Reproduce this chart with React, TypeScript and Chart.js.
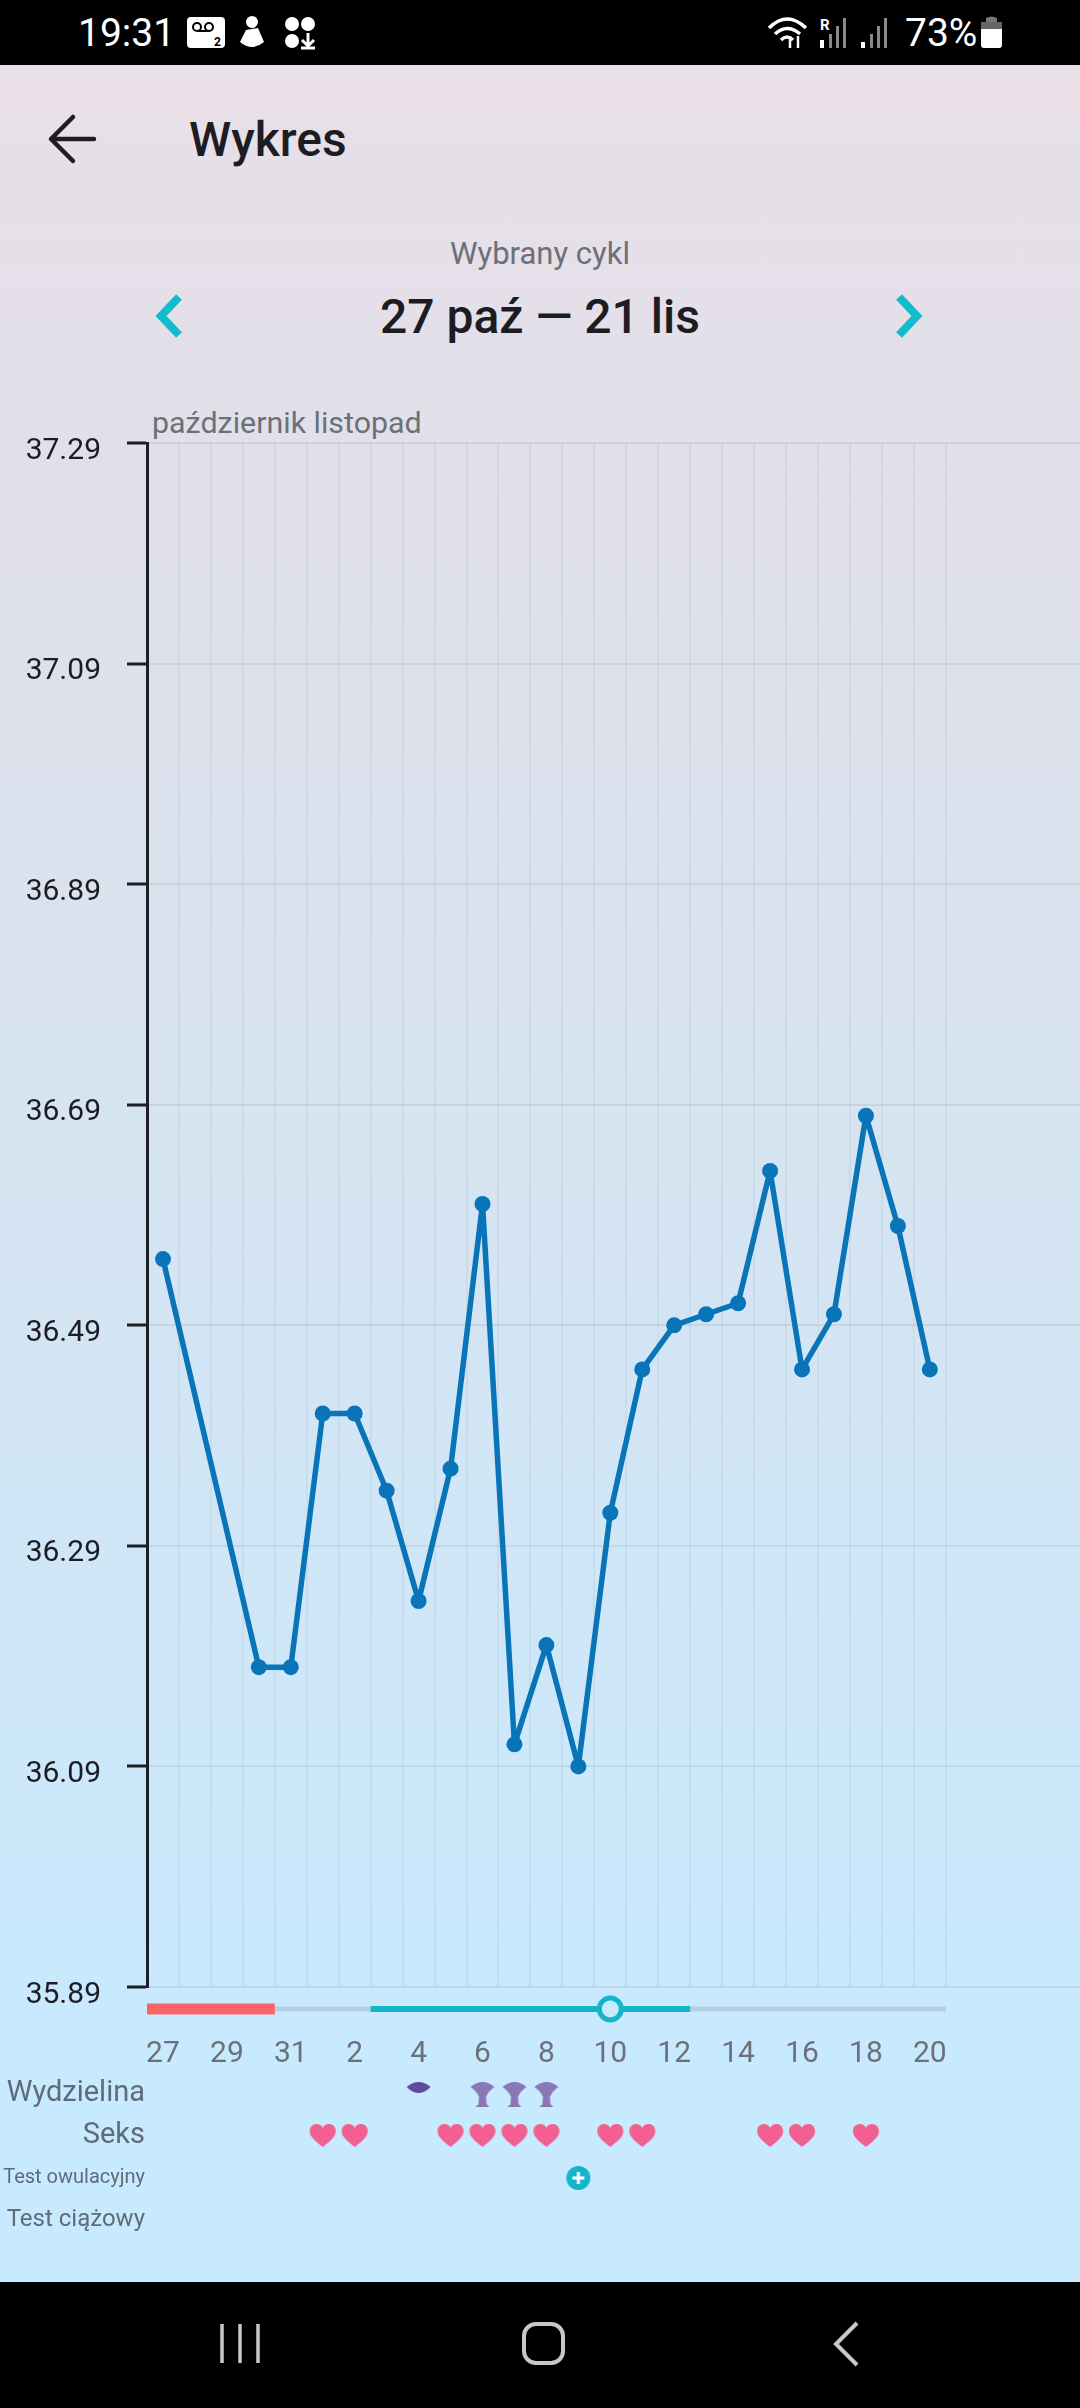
import React, { useEffect, useRef } from "react";
import { Chart, registerables } from "chart.js";

Chart.register(...registerables);

// ---- data ----
const dayLabels = ["27","28","29","30","31","1","2","3","4","5","6","7","8","9","10","11","12","13","14","15","16","17","18","19","20"];
const temperatures: (number | null)[] = [36.55,null,null,36.18,36.18,36.41,36.41,36.34,36.24,36.36,36.60,36.11,36.20,36.09,36.32,36.45,36.49,36.50,36.51,36.63,36.45,36.50,36.68,36.58,36.45];
const tempTicks = [35.89,36.09,36.29,36.49,36.69,36.89,37.09,37.29];
const labelledDays = [0,2,4,6,8,10,12,14,16,18,20,22,24];
const dayEdges = [-0.5,0.5,1.5,2.5,3.5,4.5,5.5,6.5,7.5,8.5,9.5,10.5,11.5,12.5,13.5,14.5,15.5,16.5,17.5,18.5,19.5,20.5,21.5,22.5,23.5,24.5];
const lanes = ["Wydzielina","Seks","Test owulacyjny","Test ciążowy"];
const periodRange = [-0.5,3.5];
const cycleRange = [-0.5,24.5];
const fertileRange = [6.5,16.5];
const ovulationDay = [14];
const eyeDays = [8];
const fanDays = [10,11,12];
const sexDays = [5,6,9,10,11,12,14,15,19,20,22];
const lhPositiveDays = [13];

const X_MIN = -0.5;
const X_MAX = 28.7;
const FONT = "Roboto";
const ink = "#1c1c22";
const gray = "#6d7078";

function sprite(w: number, h: number, draw: (c: CanvasRenderingContext2D) => void) {
  const cv = document.createElement("canvas");
  cv.width = w; cv.height = h;
  draw(cv.getContext("2d")!);
  return cv;
}
const makeHeart = () => sprite(28, 26, (c) => {
  c.fillStyle = "#f2608f";
  c.beginPath();
  c.moveTo(14, 24);
  c.bezierCurveTo(5, 17, 1, 13, 1, 8);
  c.bezierCurveTo(1, 3.5, 4.5, 1, 8, 1);
  c.bezierCurveTo(10.5, 1, 13, 2.5, 14, 5);
  c.bezierCurveTo(15, 2.5, 17.5, 1, 20, 1);
  c.bezierCurveTo(23.5, 1, 27, 3.5, 27, 8);
  c.bezierCurveTo(27, 13, 23, 17, 14, 24);
  c.fill();
});
const makeFan = () => sprite(26, 28, (c) => {
  c.fillStyle = "#8a78b6";
  c.beginPath();
  c.moveTo(1, 7);
  c.quadraticCurveTo(13, -3, 25, 7);
  c.quadraticCurveTo(19, 11, 16.5, 17);
  c.lineTo(17, 24); c.lineTo(20, 27); c.lineTo(6, 27); c.lineTo(9, 24); c.lineTo(9.5, 17);
  c.quadraticCurveTo(7, 11, 1, 7);
  c.fill();
});
const makeEye = () => sprite(26, 28, (c) => {
  c.fillStyle = "#634a99";
  c.beginPath();
  c.moveTo(1, 7);
  c.quadraticCurveTo(13, -3, 25, 7);
  c.quadraticCurveTo(13, 19, 1, 7);
  c.fill();
});
const makePlus = () => sprite(26, 26, (c) => {
  c.fillStyle = "#13b5c8";
  c.beginPath(); c.arc(13, 13, 12, 0, Math.PI * 2); c.fill();
  c.strokeStyle = "#ffffff"; c.lineWidth = 3;
  c.beginPath(); c.moveTo(7, 13); c.lineTo(19, 13); c.moveTo(13, 7); c.lineTo(13, 19); c.stroke();
});

const Txt = ({ x, y, size, color, weight, center, children }: any) => (
  <div style={{
    position: "absolute", left: center ? x - 400 : x, width: center ? 800 : undefined,
    top: y - size, height: size * 2, lineHeight: `${size * 2}px`,
    fontFamily: FONT, fontSize: size, fontWeight: weight || 400, color,
    textAlign: center ? "center" : "left", whiteSpace: "nowrap",
  }}>{children}</div>
);

export default function App() {
  const topRef = useRef<HTMLCanvasElement>(null);
  const ribbonRef = useRef<HTMLCanvasElement>(null);
  const lowRef = useRef<HTMLCanvasElement>(null);

  useEffect(() => {
    const noPad = (s: any) => { s.paddingLeft = 0; s.paddingRight = 0; s.paddingTop = 0; s.paddingBottom = 0; };
    const top = new Chart(topRef.current!, {
      type: "line",
      data: {
        datasets: [
          {
            data: temperatures.map((y, x) => ({ x, y })) as any,
            borderColor: "#0a74b9", backgroundColor: "#0a74b9", borderWidth: 5.5,
            pointRadius: 8, pointBackgroundColor: "#0a74b9", pointBorderWidth: 0,
            tension: 0, spanGaps: true, borderJoinStyle: "round",
          },
        ],
      },
      options: {
        responsive: false, animation: false, devicePixelRatio: 1,
        layout: { autoPadding: false, padding: { top: 43, left: 0, right: 0, bottom: 0 } },
        plugins: { legend: { display: false }, tooltip: { enabled: false } },
        scales: {
          x: {
            type: "linear", min: X_MIN, max: X_MAX, position: "bottom",
            afterBuildTicks: (s: any) => { s.ticks = labelledDays.map((value) => ({ value })); },
            afterFit: (s: any) => { s.height = 93; noPad(s); },
            grid: { display: false }, border: { display: false },
            ticks: {
              autoSkip: false, maxRotation: 0, padding: 41,
              callback: (v: any) => dayLabels[v],
              font: { family: FONT, size: 30 }, color: gray,
            },
          },
          xGrid: {
            type: "linear", axis: "x", min: X_MIN, max: X_MAX, position: "bottom",
            afterBuildTicks: (s: any) => { s.ticks = dayEdges.map((value) => ({ value })); },
            afterFit: (s: any) => { s.height = 0; noPad(s); },
            border: { display: false },
            grid: { color: "rgba(110,125,150,0.09)", lineWidth: 2, drawTicks: false },
            ticks: { display: false, autoSkip: false },
          } as any,
          y: {
            type: "linear", min: 35.89, max: 37.29,
            afterBuildTicks: (s: any) => { s.ticks = tempTicks.map((value) => ({ value })); },
            afterFit: (s: any) => { s.width = 147; noPad(s); },
            border: { display: true, color: "#1c1f26", width: 3 },
            grid: { color: "rgba(110,120,145,0.14)", lineWidth: 2, tickColor: "#1c1f26", tickWidth: 3, tickLength: 20 },
            ticks: {
              padding: 26, labelOffset: 8, autoSkip: false,
              callback: (v: any) => Number(v).toFixed(2),
              font: { family: FONT, size: 30 }, color: ink,
            },
          },
        },
      },
    } as any);

    const ribbonSegment = (r: number[], color: string, width: number, order: number) => ({
      data: r.map((x) => ({ x, y: 0.5 })),
      borderColor: color, borderWidth: width, pointRadius: 0, order,
      borderCapStyle: "butt" as const,
    });
    const ribbon = new Chart(ribbonRef.current!, {
      type: "line",
      data: {
        datasets: [
          {
            data: ovulationDay.map((x) => ({ x, y: 0.5 })),
            showLine: false, pointRadius: 11, pointBorderWidth: 5,
            pointBorderColor: "#13b5c8", pointBackgroundColor: "#c9e9fd", order: 0,
          },
          ribbonSegment(fertileRange, "#13b5c8", 6, 1),
          ribbonSegment(periodRange, "#fa6468", 11, 2),
          ribbonSegment(cycleRange, "#b5cfe2", 5, 3),
        ],
      },
      options: {
        responsive: false, animation: false, devicePixelRatio: 1,
        layout: { autoPadding: false, padding: { left: 147 } },
        plugins: { legend: { display: false }, tooltip: { enabled: false } },
        scales: {
          x: { type: "linear", min: X_MIN, max: X_MAX, display: false },
          y: { type: "linear", min: 0, max: 1, display: false },
        },
      },
    } as any);

    const lane = (name: string, days: number[], style: HTMLCanvasElement) => ({
      data: days.map((x) => ({ x, y: name })),
      showLine: false, pointStyle: style, pointRadius: 14,
    });
    const low = new Chart(lowRef.current!, {
      type: "line",
      data: {
        datasets: [
          lane(lanes[0], eyeDays, makeEye()),
          lane(lanes[0], fanDays, makeFan()),
          lane(lanes[1], sexDays, makeHeart()),
          lane(lanes[2], lhPositiveDays, makePlus()),
        ],
      },
      options: {
        responsive: false, animation: false, devicePixelRatio: 1,
        layout: { autoPadding: false, padding: 0 },
        plugins: { legend: { display: false }, tooltip: { enabled: false } },
        scales: {
          x: { type: "linear", min: X_MIN, max: X_MAX, display: false },
          y: {
            type: "category", labels: lanes, offset: true,
            afterFit: (s: any) => { s.width = 147; noPad(s); },
            border: { display: false }, grid: { display: false, drawTicks: false, tickLength: 0 },
            ticks: {
              padding: 2, autoSkip: false, color: "#5f6c78",
              font: (ctx: any) => ({ family: FONT, size: ctx.index === 2 ? 20 : ctx.index === 3 ? 24 : 29 }),
            },
          },
        },
      },
    } as any);
    return () => { top.destroy(); ribbon.destroy(); low.destroy(); };
  }, []);

  return (
    <div style={{
      position: "absolute", left: 0, top: 0, width: 1080, height: 2408, overflow: "hidden",
      background: "linear-gradient(180deg, #e9dfe7 0px, #e9dfe7 64px, #e0e0ea 500px, #d6e4f1 1150px, #c7eaff 2100px, #c7eaff 2282px)",
    }}>
      <div style={{ position: "absolute", left: 0, top: 0, width: 1080, height: 65, background: "#000" }} />
      <div style={{ position: "absolute", left: 0, top: 2282, width: 1080, height: 126, background: "#000" }} />

      <Txt x={78} y={33} size={39} color="#fff">19:31</Txt>
      <Txt x={905} y={33} size={39} color="#fff">73%</Txt>

      <svg width={1080} height={65} style={{ position: "absolute", left: 0, top: 0 }}>
        <rect x={187} y={17} width={38} height={31} rx={4} fill="#fff" />
        <circle cx={197} cy={27} r={4} fill="none" stroke="#000" strokeWidth={2} />
        <circle cx={209} cy={27} r={4} fill="none" stroke="#000" strokeWidth={2} />
        <path d="M197 31H209" stroke="#000" strokeWidth={2} />
        <text x={214} y={46} fill="#000" fontFamily={FONT} fontSize={12} fontWeight={700}>2</text>
        <circle cx={252} cy={22} r={6} fill="#fff" />
        <path d="M246 30 L258 28 L264 42 Q252 52 240 42 Z" fill="#fff" />
        <circle cx={292} cy={24} r={7} fill="#fff" />
        <circle cx={308} cy={24} r={7} fill="#fff" />
        <circle cx={292} cy={41} r={7} fill="#fff" />
        <path d="M308 33V45M302 40L308 46L314 40M301 48H315" stroke="#fff" strokeWidth={3} fill="none" />
        <path d="M769 28Q787 10 806 28M775 34Q787 23 800 34M781 40Q787 34 793 40" stroke="#fff" strokeWidth={3.5} fill="none" />
        <path d="M790 36V48M798 36V48" stroke="#fff" strokeWidth={2.5} />
        <text x={820} y={30} fill="#fff" fontFamily={FONT} fontSize={15} fontWeight={700}>R</text>
        <rect x={820} y={40} width={4} height={8} fill="#fff" />
        <rect x={829} y={34} width={3} height={14} fill="#888" />
        <rect x={836} y={26} width={3} height={22} fill="#888" />
        <rect x={843} y={18} width={3} height={30} fill="#888" />
        <rect x={861} y={42} width={4} height={6} fill="#fff" />
        <rect x={870} y={34} width={3} height={14} fill="#888" />
        <rect x={877} y={26} width={3} height={22} fill="#888" />
        <rect x={884} y={18} width={3} height={30} fill="#888" />
        <rect x={981} y={22} width={21} height={26} rx={3} fill="#fff" />
        <path d="M986 22V18Q991 15 997 18V22Z" fill="#777" />
        <rect x={981} y={22} width={21} height={7} fill="#666" />
      </svg>

      <svg width={1080} height={360} style={{ position: "absolute", left: 0, top: 65 }}>
        <path d="M94 74H52M73 52L51 74L73 96" stroke={ink} strokeWidth={4.5} fill="none" strokeLinecap="round" strokeLinejoin="round" />
        <path d="M179 232L161 251L179 270" stroke="#13bccd" strokeWidth={8} fill="none" />
        <path d="M899 232L917 251L899 270" stroke="#13bccd" strokeWidth={8} fill="none" />
      </svg>

      <Txt x={189} y={140} size={48} weight={500} color={ink}>Wykres</Txt>
      <Txt x={540} y={254} size={31} color={gray} center>Wybrany cykl</Txt>
      <Txt x={540} y={317} size={48} weight={500} color={ink} center>27 paź — 21 lis</Txt>
      <Txt x={152} y={423} size={30.4} color={gray}>październik listopad</Txt>

      <canvas ref={topRef} width={1080} height={1680} style={{ position: "absolute", left: 0, top: 400, width: 1080, height: 1680 }} />
      <canvas ref={ribbonRef} width={1080} height={34} style={{ position: "absolute", left: 0, top: 1992, width: 1080, height: 34 }} />
      <canvas ref={lowRef} width={1080} height={168} style={{ position: "absolute", left: 0, top: 2073, width: 1080, height: 168 }} />

      <svg width={1080} height={126} style={{ position: "absolute", left: 0, top: 2282 }}>
        <path d="M222 42V81M240 42V81M258 42V81" stroke="#c8c8c8" strokeWidth={3.5} />
        <rect x={524} y={42} width={39} height={39} rx={12} fill="none" stroke="#c8c8c8" strokeWidth={4} />
        <path d="M857 41L836 62L857 83" stroke="#c8c8c8" strokeWidth={4} fill="none" />
      </svg>
    </div>
  );
}
